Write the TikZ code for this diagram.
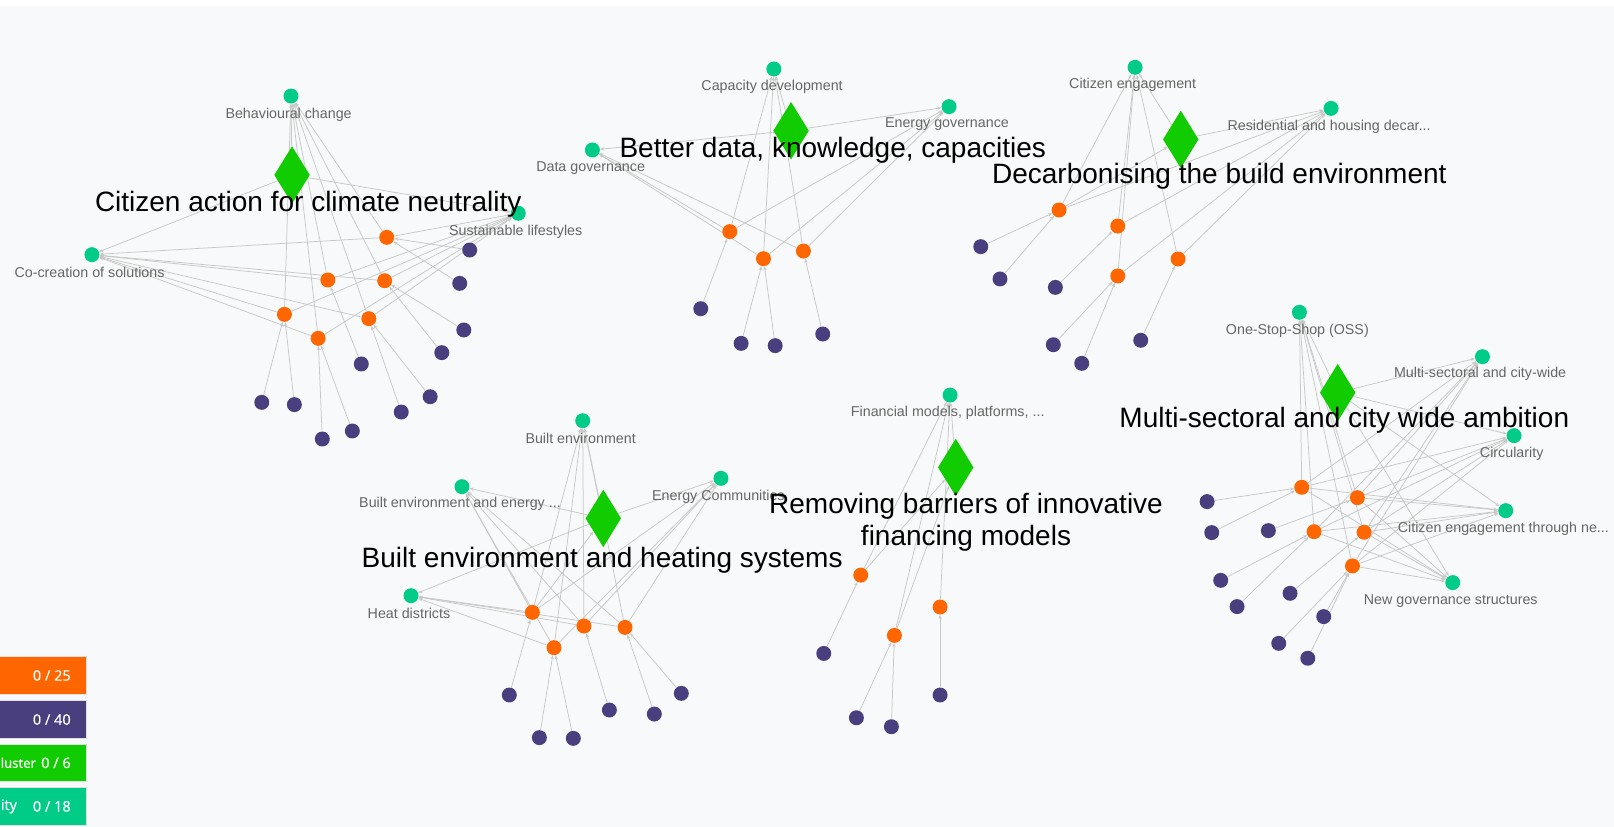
\documentclass[tikz,border=0pt]{standalone}
\usepackage{fontspec}
\setmainfont{Liberation Sans}
\newfontfamily\legfont{Open Sans}[FakeBold=0.5]
\usetikzlibrary{shapes.geometric,arrows.meta}
\definecolor{bgc}{HTML}{F8F9FA}
\definecolor{tealc}{HTML}{00CC88}
\definecolor{greenc}{HTML}{11CC00}
\definecolor{orgc}{HTML}{FF6600}
\definecolor{purc}{HTML}{4A3F7E}
\definecolor{lgray}{HTML}{666666}
\definecolor{egray}{HTML}{C8C8C8}
\pgfdeclarelayer{bgl}
\pgfdeclarelayer{edl}
\pgfsetlayers{bgl,edl,main}
\begin{document}
\begin{tikzpicture}[x=0.75pt,y=-0.75pt,
  dot/.style={circle,inner sep=0pt,minimum size=10.9pt},
  tealn/.style={dot,fill=tealc},
  orgn/.style={dot,fill=orgc},
  purn/.style={dot,fill=purc},
  clus/.style={diamond,fill=greenc,inner sep=0pt,minimum width=26pt,minimum height=42pt},
  edge/.style={draw=egray,line width=0.55pt,-{Stealth[length=3pt,width=2.4pt]}},
  slabel/.style={font=\fontsize{10.4}{12}\selectfont,text=lgray,inner sep=0pt},
  blab/.style={font=\fontsize{20.4}{23.3}\selectfont,text=black,inner sep=0pt,align=center},
  legbox/.style={draw=white!88!black,line width=0.5pt,inner sep=0pt,minimum width=66.5pt,minimum height=27.4pt},
  legtext/.style={font=\legfont\fontsize{10.6}{12}\selectfont,text=white,inner sep=0pt}]
\useasboundingbox (0,0) rectangle (1568,803);
\begin{pgfonlayer}{bgl}
\fill[bgc] (0,0) rectangle (1568,803);
\fill[white] (0,0) rectangle (1568,5.8);
\end{pgfonlayer}

% ---------- teal (community) nodes
\foreach \n/\x/\y in {a1/282.7/93.3, a2/503.5/207.2, a3/89.3/247.4,
  b1/751.8/67, b2/922/103.6, b3/575.5/145.7,
  c1/1102.7/65.4, c2/1293.1/105.3,
  e1/566.1/408.7, e2/448.8/472.8, e3/700.4/464.7, e4/399.3/578.7,
  f1/923/383.8,
  g1/1262.4/303.4, g2/1440.2/346.5, g3/1470.9/423.2, g4/1462.8/496.1, g5/1411.3/566}
  \node[tealn] (\n) at (\x,\y) {};

% ---------- orange nodes
\foreach \n/\x/\y in {o11/375.7/230.6, o12/318.5/272, o13/373.7/272.7, o14/276.3/305.4, o15/358.3/309.6, o16/309.1/328.7,
  o21/709/225, o22/741.7/251.3, o23/780.5/243.9,
  o31/1028.9/204, o32/1085.9/219.6, o33/1085.9/268.1, o34/1144.5/251.6,
  o41/517.2/594.9, o42/567.3/608.2, o43/607.2/609.5, o44/538.2/629.2,
  o51/836.2/558.7, o52/913.3/589.7, o53/868.9/617.3,
  o61/1264.6/473.4, o62/1318.7/483.5, o63/1276.6/516.5, o64/1325.2/517.1, o65/1313.9/549.8}
  \node[orgn] (\n) at (\x,\y) {};

% ---------- purple nodes
\foreach \n/\x/\y in {p11/456.3/242.9, p12/446.6/275.3, p13/450.6/320.6, p14/429.2/342.6, p15/351/353.6, p16/417.9/385.4,
  p17/389.8/400.3, p18/254.3/390.9, p19/286/393.1, p1a/342.3/418.7, p1b/313.1/426.5,
  p21/680.8/299.9, p22/720/333.6, p23/753.1/335.8, p24/799.3/324.5,
  p31/952.8/239.6, p32/971.5/271, p33/1025.3/279.2, p34/1023.3/334.9, p35/1050.9/353, p36/1108.2/330.6,
  p41/494.8/675.2, p42/524/716.6, p43/557/717.3, p44/592/689.8, p45/635.7/693.7, p46/661.9/673.6,
  p51/800.3/634.8, p52/832/697.3, p53/866/706, p54/913.3/675.2,
  p61/1172.7/487.3, p62/1177.2/517.4, p63/1232.2/515.5, p64/1185.9/563.8, p65/1201.8/589.3,
  p66/1253.3/576.4, p67/1286/599, p68/1242.3/625, p69/1270.5/639.5}
  \node[purn] (\n) at (\x,\y) {};

% ---------- cluster diamonds
\foreach \n/\x/\y in {d1/283.7/170, d2/768.5/127, d3/1147.1/135.4, d4/586.1/503.6, d5/928.5/454.1, d6/1299.6/381.4}
  \node[clus] (\n) at (\x,\y) {};

% ---------- edges
\begin{pgfonlayer}{edl}
\foreach \s/\t in {p11/o11, p12/o11, p13/o13, p14/o13, p15/o12, p16/o15, p17/o15, p18/o14, p19/o14, p1a/o16, p1b/o16,
  p21/o21, p22/o22, p23/o22, p24/o23,
  p31/o31, p32/o31, p33/o32, p34/o33, p35/o33, p36/o34,
  p41/o41, p42/o44, p43/o44, p44/o42, p45/o43, p46/o43,
  p51/o51, p52/o53, p53/o53, p54/o52,
  p61/o61, p62/o61, p63/o62, p64/o63, p65/o63, p66/o64, p67/o65, p68/o65, p69/o65,
  o31/d3, o51/d5, o53/d5, o41/d4,
  d1/a1, d1/a2, d1/a3, d2/b1, d2/b2, d2/b3, d3/c1, d3/c2,
  d4/e1, d4/e2, d4/e3, d4/e4, d5/f1,
  d6/g1, d6/g2, d6/g3, d6/g4, d6/g5}
  \draw[edge] (\s) -- (\t);
\foreach \o in {o11,o12,o13,o14,o15,o16}{\foreach \t in {a1,a2,a3}{\draw[edge] (\o) -- (\t);}}
\foreach \o in {o21,o22,o23}{\foreach \t in {b1,b2,b3}{\draw[edge] (\o) -- (\t);}}
\foreach \o in {o31,o32,o33,o34}{\foreach \t in {c1,c2}{\draw[edge] (\o) -- (\t);}}
\foreach \o in {o41,o42,o43,o44}{\foreach \t in {e1,e2,e3,e4}{\draw[edge] (\o) -- (\t);}}
\foreach \o in {o51,o52,o53}{\draw[edge] (\o) -- (f1);}
\foreach \o in {o61,o62,o63,o64,o65}{\foreach \t in {g1,g2,g3,g4,g5}{\draw[edge] (\o) -- (\t);}}
\end{pgfonlayer}

% ---------- small labels
\node[slabel] (la1) at (280.4,111.4) {Behavioural change};
\node[slabel] (la2) at (501,225.1) {Sustainable lifestyles};
\node[slabel] (la3) at (87,264.6) {Co-creation of solutions};
\node[slabel] (lb1) at (750.1,84.2) {Capacity development};
\node[slabel] (lb2) at (920,120.8) {Energy governance};
\node[slabel] (lb3) at (573.8,163.5) {Data governance};
\node[slabel] (lc1) at (1100.4,82.3) {Citizen engagement};
\node[slabel] (lc2) at (1291.2,123.1) {Residential and housing decar...};
\node[slabel] (le1) at (564.1,425.8) {Built environment};
\node[slabel] (le2) at (446.9,489.6) {Built environment and energy ...};
\node[slabel] (le3) at (697.9,482.5) {Energy Communities};
\node[slabel] (le4) at (397.3,595.9) {Heat districts};
\node[slabel] (lf1) at (920.7,401) {Financial models, platforms, ...};
\node[slabel] (lg1) at (1260.4,321.2) {One-Stop-Shop (OSS)};
\node[slabel] (lg2) at (1437.9,363.6) {Multi-sectoral and city-wide};
\node[slabel] (lg3) at (1468.6,440.4) {Circularity};
\node[slabel] (lg4) at (1460.5,513.9) {Citizen engagement through ne...};
\node[slabel] (lg5) at (1409.4,583.5) {New governance structures};

% ---------- cluster titles
\node[blab] (t1) at (299.4,198.2) {Citizen action for climate neutrality};
\node[blab] (t2) at (809,145.7) {Better data, knowledge, capacities};
\node[blab] (t3) at (1184.6,171.6) {Decarbonising the build environment};
\node[blab] (t4) at (585,544) {Built environment and heating systems};
\node[blab] (t5) at (938.5,507.6) {Removing barriers of innovative\\financing models};
\node[blab] (t6) at (1306,408) {Multi-sectoral and city wide ambition};

% ---------- legend
\begin{scope}
\clip (0,0) rectangle (1568,803);
\node[legbox,fill=orgc] (k1) at (39.3,656.2) {};
\node[legbox,fill=purc] (k2) at (39.3,699) {};
\node[legbox,fill=greenc] (k3) at (39.3,741.1) {};
\node[legbox,fill=tealc] (k4) at (39.3,783.4) {};
\node[legtext,anchor=east] (kt1) at (69,656.2) {0 / 25};
\node[legtext,anchor=east] (kt2) at (69,699) {0 / 40};
\node[legtext,anchor=west,font=\legfont\fontsize{9.6}{12}\selectfont] (kt3a) at (0.5,741.1) {luster};
\node[legtext,anchor=east] (kt3) at (69,741.1) {0 / 6};
\node[legtext,anchor=west] (kt4a) at (0.5,783.4) {ity};
\node[legtext,anchor=east] (kt4) at (69,783.4) {0 / 18};
\end{scope}
\end{tikzpicture}
\end{document}
